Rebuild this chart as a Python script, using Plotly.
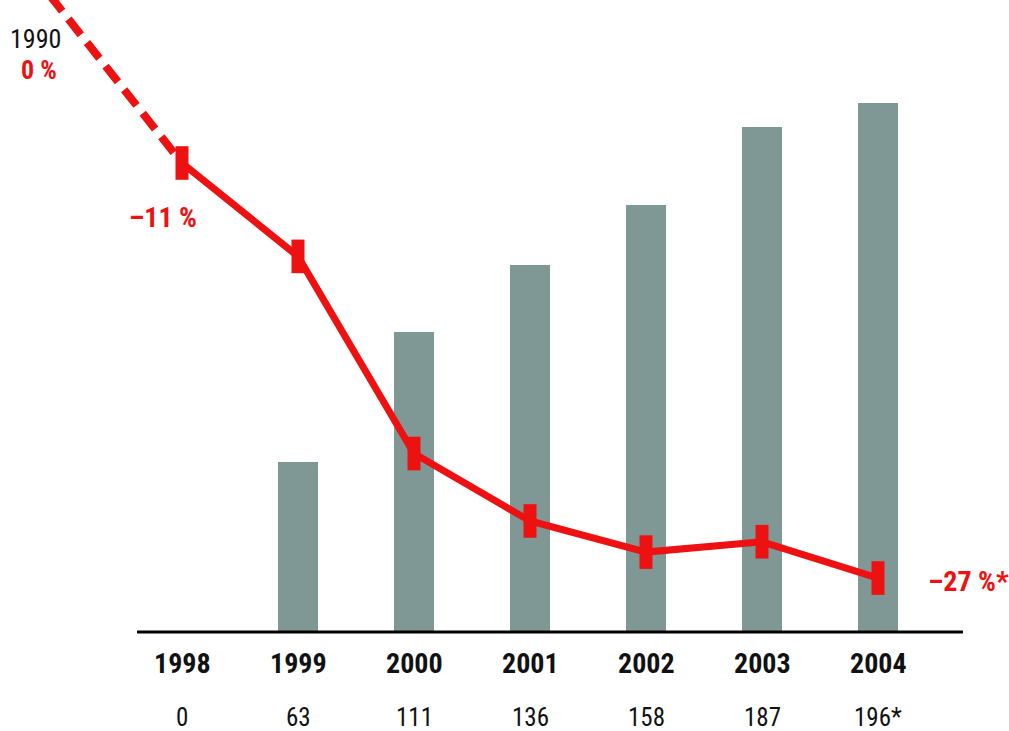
import plotly.graph_objects as go

# Years shown on the axis
years = [1998, 1999, 2000, 2001, 2002, 2003, 2004]
# Bar values (label under each year)
bar_values = [0, 63, 111, 136, 158, 187, 196]
bar_labels = ["0", "63", "111", "136", "158", "187", "196*"]
# Change versus 1990, in percent
pct_change = [-11, -14.6, -22.2, -24.8, -26.0, -25.6, -27]
# Reference year shown at the top-left, drawn on a compressed axis position
base_year_pos = 1996.06
base_year_value = 0

RED = "#ee1111"
BAR = "#7f9795"
FONT = "Liberation Sans Narrow, Roboto Condensed, Liberation Sans, Arial, sans-serif"

fig = go.Figure()

fig.add_trace(go.Bar(
    x=years, y=bar_values, width=0.345,
    marker=dict(color=BAR, line=dict(width=0)),
    yaxis="y", showlegend=False, hoverinfo="skip",
))

# Dashed link back to the 1990 base
fig.add_trace(go.Scatter(
    x=[base_year_pos, years[0]], y=[base_year_value, pct_change[0]],
    mode="lines", line=dict(color=RED, width=8, dash="20px,10px"),
    yaxis="y2", showlegend=False, hoverinfo="skip",
))

fig.add_trace(go.Scatter(
    x=years, y=pct_change, mode="lines+markers",
    line=dict(color=RED, width=7),
    marker=dict(symbol="line-ns", size=24, line=dict(color=RED, width=13)),
    yaxis="y2", showlegend=False, cliponaxis=False,
))

# x: 1998 at 182 px, 116 px per year over a full-width plot area
x0 = 1998 - 182 / 116
x1 = x0 + 1009 / 116
# bars: baseline at 632 px, 2.70 px per unit
yb0 = -(731 - 632) / 2.70
yb1 = 632 / 2.70
# percent: -11 at 163 px, 25.94 px per point
yp1 = -11 + 163 / 25.94
yp0 = -11 - (731 - 163) / 25.94

fig.update_layout(
    width=1009, height=731,
    margin=dict(l=0, r=0, t=0, b=0),
    paper_bgcolor="white", plot_bgcolor="white",
    bargap=0,
    xaxis=dict(range=[x0, x1], domain=[0, 1], visible=False, fixedrange=True),
    yaxis=dict(range=[yb0, yb1], domain=[0, 1], visible=False),
    yaxis2=dict(range=[yp0, yp1], overlaying="y", visible=False),
    font=dict(family=FONT),
    shapes=[dict(
        type="line", xref="paper", yref="y",
        x0=137 / 1009, x1=963 / 1009, y0=0, y1=0,
        line=dict(color="black", width=3),
    )],
)


def py(pixel_y):
    return (731 - pixel_y) / 731


annotations = []
for yr, lbl in zip(years, bar_labels):
    annotations.append(dict(
        x=yr, y=py(663), xref="x", yref="paper",
        xanchor="center", yanchor="middle",
        text=f"<b>{yr}</b>", showarrow=False,
        font=dict(size=28, color="#111111", family=FONT),
    ))
    annotations.append(dict(
        x=yr, y=py(717), xref="x", yref="paper",
        xanchor="center", yanchor="middle",
        text=lbl, showarrow=False,
        font=dict(size=25, color="#111111", family=FONT),
    ))

annotations += [
    dict(x=35 / 1009, y=py(39), xref="paper", yref="paper",
         xanchor="center", yanchor="middle",
         text="1990", showarrow=False,
         font=dict(size=26, color="#111111", family=FONT)),
    dict(x=39 / 1009, y=py(70), xref="paper", yref="paper",
         xanchor="center", yanchor="middle",
         text=f"<b>{base_year_value} %</b>", showarrow=False,
         font=dict(size=26, color=RED, family=FONT)),
    dict(x=163 / 1009, y=pct_change[0], xref="paper", yref="y2",
         xanchor="center", yanchor="middle",
         yshift=-(217 - 163), text=f"<b>\u2013{abs(pct_change[0])} %</b>",
         showarrow=False, font=dict(size=28, color=RED, family=FONT)),
    dict(x=968 / 1009, y=pct_change[-1], xref="paper", yref="y2",
         xanchor="center", yanchor="middle",
         yshift=-3, text=f"<b>\u2013{abs(pct_change[-1])} %*</b>",
         showarrow=False, font=dict(size=28, color=RED, family=FONT)),
]
fig.update_layout(annotations=annotations)

fig.write_html("out.html")
